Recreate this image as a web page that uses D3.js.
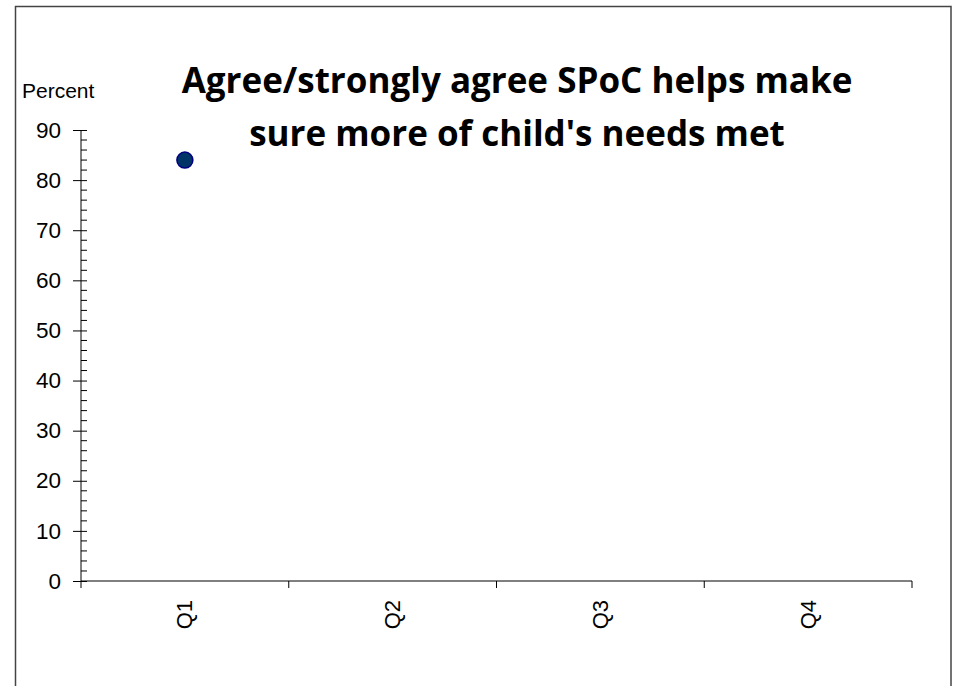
<!DOCTYPE html>
<html><head><meta charset="utf-8">
<script src="https://cdn.jsdelivr.net/npm/d3@7"></script>
<style>html,body{margin:0;padding:0;background:#fff;}svg{display:block;}</style>
</head><body>
<svg id="c" width="953" height="686"></svg>
<script>
const categories = ["Q1", "Q2", "Q3", "Q4"];
const values = [84, null, null, null];
const yTicks = [0, 10, 20, 30, 40, 50, 60, 70, 80, 90];
const titleLines = ["Agree/strongly agree SPoC helps make", "sure more of child's needs met"];
const yLabel = "Percent";

const svg = d3.select("#c");
svg.append("rect").attr("x", 15.5).attr("y", 6.5).attr("width", 935.5).attr("height", 700)
  .attr("fill", "#fff").attr("stroke", "#444").attr("stroke-width", 1.5);

const x = d3.scaleBand().domain(categories).range([81, 912]).padding(0);
const y = d3.scaleLinear().domain([0, 90]).range([581, 130]);

const g = svg.append("g");
// minor ticks
const minor = d3.range(0, 91, 2).filter(v => v % 10 !== 0);
g.selectAll("line.minor").data(minor).join("line")
  .attr("x1", 81).attr("x2", 87).attr("y1", d => y(d)).attr("y2", d => y(d))
  .attr("stroke", "#000").attr("stroke-width", 1);
// y axis
const yAxis = g.append("g").attr("transform", "translate(81,0)")
  .call(d3.axisLeft(y).tickValues(yTicks).tickSize(8).tickPadding(12).tickSizeOuter(0));
yAxis.select(".domain").remove();
yAxis.selectAll(".tick line").attr("x2", 6).attr("x1", -8);
yAxis.selectAll("text").attr("font-family", "Arial, 'Liberation Sans', sans-serif").attr("font-size", 22.5).attr("fill", "#000");
g.append("line").attr("x1", 81).attr("x2", 81).attr("y1", y(90)).attr("y2", 588).attr("stroke", "#000");

// x axis
const xb = g.append("g").attr("transform", "translate(0,581)");
xb.append("line").attr("x1", 81).attr("x2", 912).attr("y1", 0).attr("y2", 0).attr("stroke", "#000");
const edges = categories.map(c => x(c)).concat([x(categories[categories.length - 1]) + x.bandwidth()]);
xb.selectAll("line.t").data(edges.slice(1)).join("line")
  .attr("x1", d => d).attr("x2", d => d).attr("y1", 0).attr("y2", 7).attr("stroke", "#000");
xb.selectAll("text").data(categories).join("text")
  .attr("transform", d => `translate(${x(d) + x.bandwidth() / 2 + 7.5},19) rotate(-90)`)
  .attr("text-anchor", "end")
  .attr("font-family", "Arial, 'Liberation Sans', sans-serif").attr("font-size", 22)
  .text(d => d);

// points
g.selectAll("circle").data(categories.map((c, i) => ({c, v: values[i]})).filter(d => d.v != null))
  .join("circle")
  .attr("cx", d => x(d.c) + x.bandwidth() / 2).attr("cy", d => y(d.v)).attr("r", 8)
  .attr("fill", "#003366").attr("stroke", "#000080").attr("stroke-width", 1.5);

// y label
svg.append("text").attr("x", 22).attr("y", 98)
  .attr("font-family", "Arial, 'Liberation Sans', sans-serif").attr("font-size", 21).text(yLabel);

// title
svg.selectAll("text.title").data(titleLines).join("text").attr("class", "title")
  .attr("x", 517).attr("y", (d, i) => 93 + i * 53)
  .attr("text-anchor", "middle")
  .attr("font-family", "'Open Sans', sans-serif").attr("font-weight", "bold").attr("font-size", 35)
  .text(d => d);
</script>
</body></html>
